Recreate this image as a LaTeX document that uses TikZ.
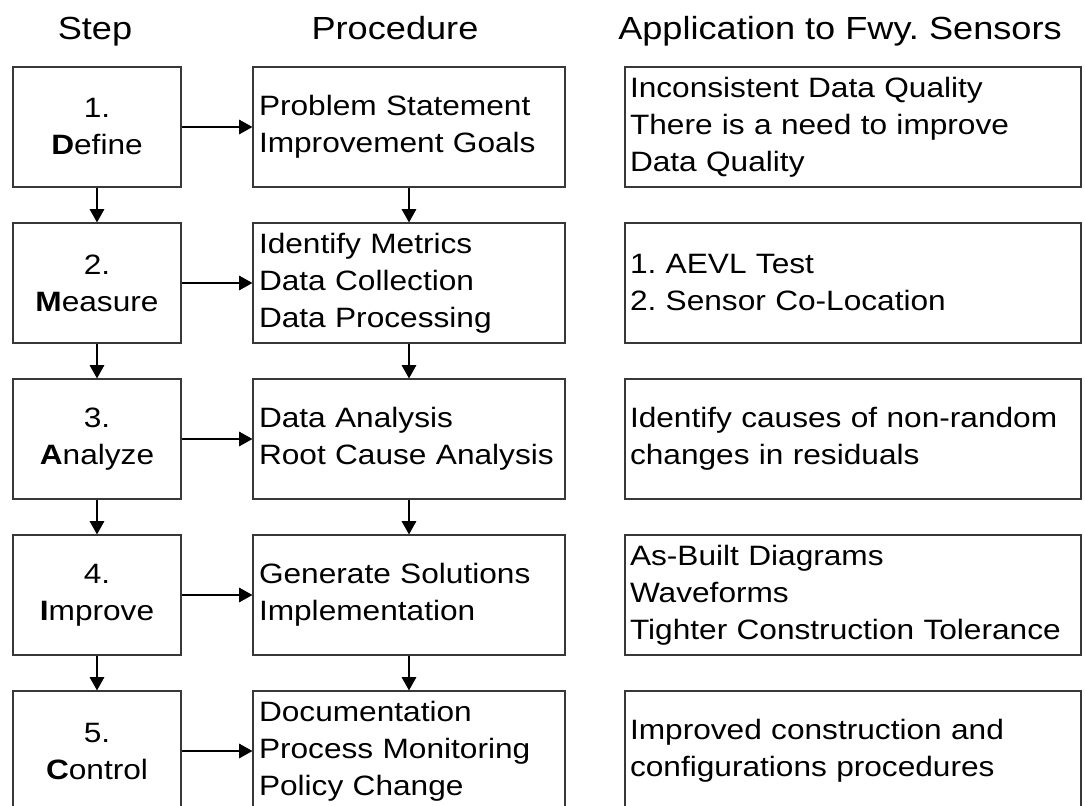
\documentclass[tikz,border=0pt]{standalone}
\usepackage{fontspec}
\setmainfont{Liberation Sans}[FakeStretch=1.13]
\usetikzlibrary{arrows.meta}
\frenchspacing
\begin{document}
\begin{tikzpicture}[x=0.75pt,y=-0.75pt,
  box/.style={draw=black!78,line width=0.9pt,minimum height=90pt,inner ysep=0pt,
    font=\fontsize{21}{27.75}\selectfont\frenchspacing},
  stepbox/.style={box,minimum width=126pt,text width=120pt,align=center,inner xsep=3pt},
  procbox/.style={box,text width=225pt,inner xsep=4.5pt,align=left},
  appbox/.style={box,text width=334.5pt,inner xsep=3.75pt,align=left},
  head/.style={anchor=base,inner sep=0pt,font=\fontsize{24}{29}\selectfont\frenchspacing},
  arr/.style={line width=0.8pt,-{Triangle[length=10pt,width=11pt]}}]
\useasboundingbox (0,0) rectangle (1085,806);

% column headings
\node[head] (hs) at (95,40) {Step};
\node[head] (hp) at (395,40) {Procedure};
\node[head] (ha) at (840,40) {Application to Fwy. Sensors};

% step column
\node[stepbox] (s1) at (97,127) {1.\\\textbf{D}efine};
\node[stepbox] (s2) at (97,283) {2.\\\textbf{M}easure};
\node[stepbox] (s3) at (97,439) {3.\\\textbf{A}nalyze};
\node[stepbox] (s4) at (97,595) {4.\\\textbf{I}mprove};
\node[stepbox] (s5) at (97,751) {5.\\\textbf{C}ontrol};

% procedure column
\node[procbox] (p1) at (409,127) {Problem Statement\\Improvement Goals};
\node[procbox] (p2) at (409,283) {Identify Metrics\\Data Collection\\Data Processing};
\node[procbox] (p3) at (409,439) {Data Analysis\\Root Cause Analysis};
\node[procbox] (p4) at (409,595) {Generate Solutions\\Implementation};
\node[procbox] (p5) at (409,751) {Documentation\\Process Monitoring\\Policy Change};

% application column
\node[appbox] (a1) at (853,127) {Inconsistent Data Quality\\There is a need to improve\\Data Quality};
\node[appbox] (a2) at (853,283) {1. AEVL Test\\2. Sensor Co-Location};
\node[appbox] (a3) at (853,439) {Identify causes of non-random\\changes in residuals};
\node[appbox] (a4) at (853,595) {As-Built Diagrams\\Waveforms\\Tighter Construction Tolerance};
\node[appbox] (a5) at (853,751) {Improved construction and\\configurations procedures};

% connectors
\foreach \i in {1,...,5} {
  \draw[arr] (s\i) -- (p\i);
}
\foreach \i/\j in {1/2,2/3,3/4,4/5} {
  \draw[arr] (s\i) -- (s\j);
  \draw[arr] (p\i) -- (p\j);
}
\end{tikzpicture}
\end{document}
